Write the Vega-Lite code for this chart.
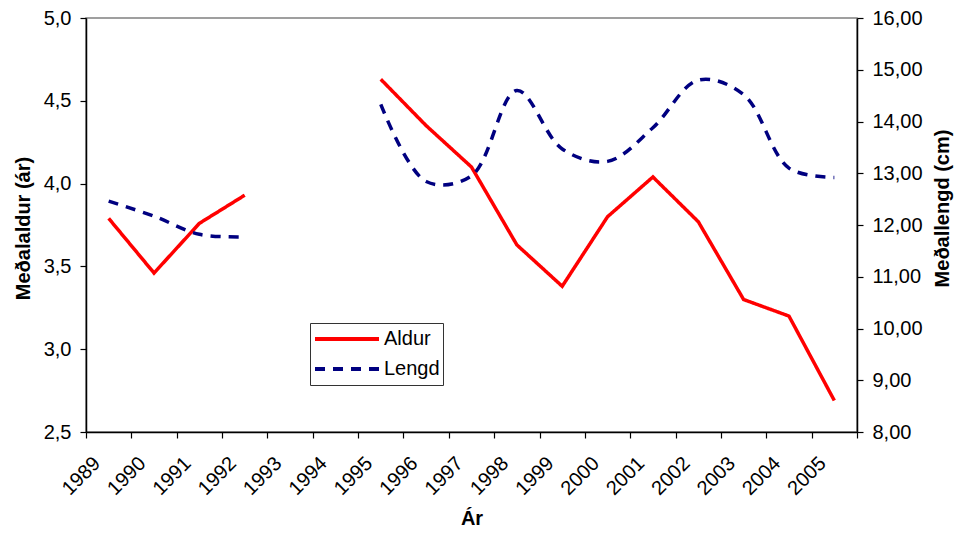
{
  "$schema": "https://vega.github.io/schema/vega-lite/v6.json",
  "width": 771,
  "height": 414,
  "autosize": "none",
  "padding": {"left": 86, "top": 18, "right": 103, "bottom": 104},
  "background": "white",
  "config": {
    "font": "Liberation Sans",
    "view": {"stroke": "#808080", "strokeWidth": 1.5},
    "axis": {
      "grid": false,
      "domainColor": "#000000",
      "domainWidth": 1.5,
      "tickColor": "#000000",
      "tickWidth": 1.2,
      "tickSize": 6,
      "labelColor": "#000000",
      "labelFontSize": 20,
      "labelFont": "Liberation Sans",
      "titleColor": "#000000",
      "titleFontSize": 20,
      "titleFont": "Liberation Sans",
      "titleFontWeight": "bold"
    }
  },
  "data": {
    "values": [
      {"year": 1989, "series": "Aldur", "value": 3.79},
      {"year": 1990, "series": "Aldur", "value": 3.46},
      {"year": 1991, "series": "Aldur", "value": 3.76},
      {"year": 1992, "series": "Aldur", "value": 3.93},
      {"year": 1993, "series": "Aldur", "value": null},
      {"year": 1994, "series": "Aldur", "value": null},
      {"year": 1995, "series": "Aldur", "value": 4.63},
      {"year": 1996, "series": "Aldur", "value": 4.35},
      {"year": 1997, "series": "Aldur", "value": 4.10},
      {"year": 1998, "series": "Aldur", "value": 3.63},
      {"year": 1999, "series": "Aldur", "value": 3.38},
      {"year": 2000, "series": "Aldur", "value": 3.80},
      {"year": 2001, "series": "Aldur", "value": 4.04},
      {"year": 2002, "series": "Aldur", "value": 3.77},
      {"year": 2003, "series": "Aldur", "value": 3.30},
      {"year": 2004, "series": "Aldur", "value": 3.20},
      {"year": 2005, "series": "Aldur", "value": 2.69},
      {"year": 1989, "series": "Lengd", "value": 12.46},
      {"year": 1990, "series": "Lengd", "value": 12.17},
      {"year": 1991, "series": "Lengd", "value": 11.82},
      {"year": 1992, "series": "Lengd", "value": 11.77},
      {"year": 1993, "series": "Lengd", "value": null},
      {"year": 1994, "series": "Lengd", "value": null},
      {"year": 1995, "series": "Lengd", "value": 14.33},
      {"year": 1996, "series": "Lengd", "value": 12.84},
      {"year": 1997, "series": "Lengd", "value": 12.95},
      {"year": 1998, "series": "Lengd", "value": 14.60},
      {"year": 1999, "series": "Lengd", "value": 13.47},
      {"year": 2000, "series": "Lengd", "value": 13.23},
      {"year": 2001, "series": "Lengd", "value": 13.88},
      {"year": 2002, "series": "Lengd", "value": 14.80},
      {"year": 2003, "series": "Lengd", "value": 14.52},
      {"year": 2004, "series": "Lengd", "value": 13.10},
      {"year": 2005, "series": "Lengd", "value": 12.92}
    ]
  },
  "encoding": {
    "x": {
      "field": "year",
      "type": "ordinal",
      "bandPosition": 0.5,
      "scale": {
        "type": "band",
        "domain": [1989, 1990, 1991, 1992, 1993, 1994, 1995, 1996, 1997, 1998, 1999, 2000, 2001, 2002, 2003, 2004, 2005],
        "paddingInner": 0,
        "paddingOuter": 0
      },
      "axis": {
        "title": "Ár",
        "tickBand": "extent",
        "labelAngle": -45,
        "labelAlign": "right",
        "labelBaseline": "middle",
        "labelPadding": 22,
        "labelOffset": -12,
        "titlePadding": 10
      }
    },
    "color": {
      "field": "series",
      "type": "nominal",
      "scale": {"domain": ["Aldur", "Lengd"], "range": ["#FF0000", "#000080"]},
      "legend": {
        "orient": "none",
        "legendX": 224,
        "legendY": 305,
        "title": null,
        "strokeColor": "#333333",
        "fillColor": "#ffffff",
        "padding": 3,
        "symbolType": "stroke",
        "symbolSize": 4096,
        "symbolStrokeWidth": 4,
        "clipHeight": 26,
        "rowPadding": 4,
        "labelFontSize": 20,
        "labelColor": "#000000",
        "labelFont": "Liberation Sans",
        "labelOffset": 3
      }
    },
    "strokeDash": {
      "field": "series",
      "type": "nominal",
      "scale": {"domain": ["Aldur", "Lengd"], "range": [[1, 0], [10, 8]]},
      "legend": {
        "orient": "none",
        "legendX": 224,
        "legendY": 305,
        "title": null
      }
    }
  },
  "layer": [
    {
      "transform": [{"filter": "datum.series === 'Aldur'"}],
      "mark": {"type": "line", "strokeWidth": 3.5, "invalid": "break-paths-show-domains"},
      "encoding": {
        "y": {
          "field": "value",
          "type": "quantitative",
          "scale": {"domain": [2.5, 5], "nice": false, "zero": false},
          "axis": {
            "orient": "left",
            "title": "Meðalaldur (ár)",
            "values": [2.5, 3, 3.5, 4, 4.5, 5],
            "labelExpr": "replace(format(datum.value, '.1f'), '.', ',')",
            "labelPadding": 9,
            "titlePadding": 10,
            "titleY": 210
          }
        }
      }
    },
    {
      "transform": [{"filter": "datum.series === 'Lengd'"}],
      "mark": {"type": "line", "strokeWidth": 3.5, "interpolate": "catmull-rom", "invalid": "break-paths-show-domains"},
      "encoding": {
        "y": {
          "field": "value",
          "type": "quantitative",
          "scale": {"domain": [8, 16], "nice": false, "zero": false},
          "axis": {
            "orient": "right",
            "title": "Meðallengd (cm)",
            "values": [8, 9, 10, 11, 12, 13, 14, 15, 16],
            "labelExpr": "replace(format(datum.value, '.2f'), '.', ',')",
            "labelPadding": 9,
            "titleAngle": -90,
            "titleBaseline": "top",
            "titlePadding": 10,
            "titleY": 190
          }
        }
      }
    }
  ],
  "resolve": {"scale": {"y": "independent"}}
}
